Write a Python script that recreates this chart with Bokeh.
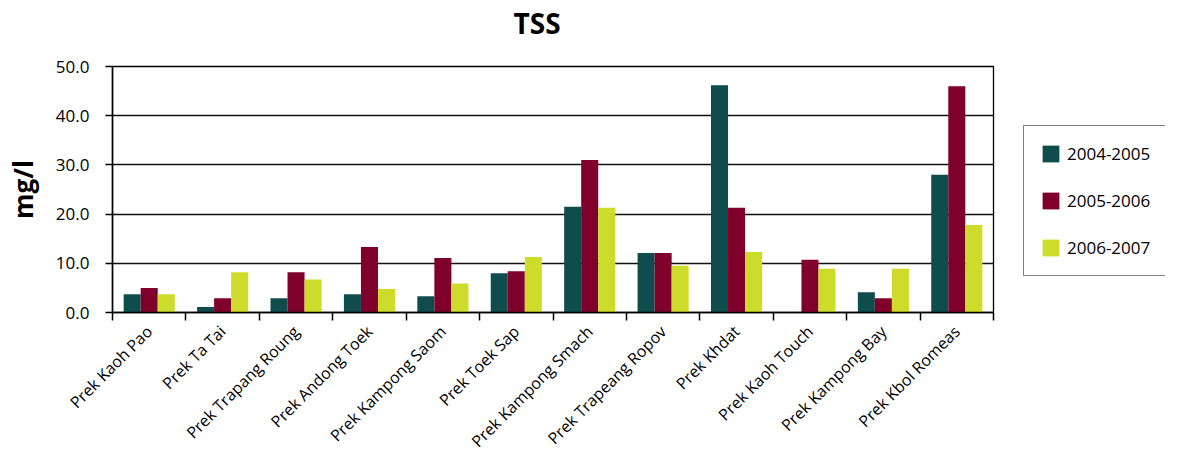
import numpy as np
from bokeh.plotting import figure
from bokeh.layouts import row, column
from bokeh.models import (ColumnDataSource, FixedTicker, CustomJSTickFormatter, Legend,
                          LegendItem, Range1d, NumeralTickFormatter)
from bokeh.transform import dodge
from bokeh.embed import file_html
from bokeh.resources import INLINE

sites = ["Prek Kaoh Pao", "Prek Ta Tai", "Prek Trapang Roung", "Prek Andong Toek",
         "Prek Kampong Saom", "Prek Toek Sap", "Prek Kampong Smach", "Prek Trapeang Ropov",
         "Prek Khdat", "Prek Kaoh Touch", "Prek Kampong Bay", "Prek Kbol Romeas"]
tss_2004_2005 = [3.7, 1.1, 2.9, 3.7, 3.3, 8.0, 21.5, 12.1, 46.2, 0.0, 4.1, 28.0]
tss_2005_2006 = [5.0, 2.9, 8.2, 13.3, 11.1, 8.4, 31.0, 12.1, 21.3, 10.7, 2.9, 46.0]
tss_2006_2007 = [3.7, 8.2, 6.7, 4.8, 5.9, 11.3, 21.3, 9.5, 12.3, 8.9, 8.9, 17.8]
series_labels = ["2004-2005", "2005-2006", "2006-2007"]
series_colors = ["#0F4C4C", "#7F002B", "#CDDC2A"]
y_ticks = [0, 10, 20, 30, 40, 50]

FONT = "Open Sans"
W = 1165
TH = 52          # title strip height
H = 462 - TH     # chart height
PW = 1008        # chart figure width (frame right at 993)

src = ColumnDataSource(dict(
    pos=[i + 0.5 for i in range(len(sites))],
    s0=tss_2004_2005, s1=tss_2005_2006, s2=tss_2006_2007,
))
series_cols = ["s0", "s1", "s2"]

# --- title strip ---
tf = figure(width=W, height=TH, output_backend="svg", toolbar_location=None,
            x_axis_type=None, y_axis_type=None, title="TSS",
            min_border_left=112, min_border_right=W - 993, min_border_top=0,
            min_border_bottom=0, x_range=Range1d(0, 1), y_range=Range1d(0, 1))
tf.outline_line_color = None
tf.xgrid.visible = False
tf.ygrid.visible = False
tf.title.text_font = FONT
tf.title.text_font_size = "28px"
tf.title.text_font_style = "bold"
tf.title.text_color = "black"
tf.title.align = "left"
tf.title.offset = 401
tf.title.standoff = 3

# --- main chart ---
p = figure(width=PW, height=H, output_backend="svg", toolbar_location=None,
           x_range=Range1d(0, len(sites)), y_range=Range1d(0, 50),
           min_border_left=112, min_border_right=PW - 993, min_border_top=66 - TH,
           min_border_bottom=H - (313 - TH))

bw = 0.232
offsets = [-bw, 0.0, bw]
for k, col in enumerate(series_cols):
    p.vbar(x=dodge("pos", offsets[k], range=p.x_range), top=col, width=bw,
           bottom=0, source=src, fill_color=series_colors[k], line_color=None)

xa = p.xaxis[0]
xa.ticker = FixedTicker(ticks=[i + 0.5 for i in range(len(sites))],
                        minor_ticks=list(range(len(sites) + 1)))
xa.formatter = CustomJSTickFormatter(args=dict(cats=sites),
                                     code="return cats[Math.floor(tick)];")
xa.major_tick_out = 0
xa.major_tick_in = 0
xa.minor_tick_out = 8
xa.minor_tick_in = 0
xa.minor_tick_line_color = "black"
xa.minor_tick_line_width = 1.5
xa.axis_line_color = "black"
xa.axis_line_width = 1.5
xa.major_label_orientation = np.pi / 4
xa.major_label_text_font = FONT
xa.major_label_text_font_size = "16px"
xa.major_label_text_color = "black"
xa.major_label_standoff = 8

ya = p.yaxis[0]
ya.ticker = FixedTicker(ticks=y_ticks, minor_ticks=[])
ya.formatter = NumeralTickFormatter(format="0.0")
ya.major_tick_out = 7
ya.major_tick_in = 0
ya.major_tick_line_color = "black"
ya.major_tick_line_width = 1.5
ya.axis_line_color = "black"
ya.axis_line_width = 1.5
ya.major_label_text_font = FONT
ya.major_label_text_font_size = "17px"
ya.major_label_text_color = "black"
ya.major_label_standoff = 16
ya.axis_label = "mg/l"
ya.axis_label_text_font = FONT
ya.axis_label_text_font_size = "26px"
ya.axis_label_text_font_style = "bold"
ya.axis_label_text_color = "black"
ya.axis_label_standoff = 12

p.xgrid.grid_line_color = None
p.ygrid.ticker = FixedTicker(ticks=y_ticks)
p.ygrid.grid_line_color = "#111111"
p.ygrid.grid_line_width = 1.3

p.outline_line_color = "black"
p.outline_line_width = 1.3
p.background_fill_color = "white"
p.border_fill_color = "white"

# --- legend panel (same data, drawn out of view; only the legend shows) ---
p2 = figure(width=W - PW, height=H, output_backend="svg", toolbar_location=None,
            x_range=Range1d(-3, -2), y_range=Range1d(0, 1), min_border=0,
            x_axis_type=None, y_axis_type=None)
p2.outline_line_color = None
p2.xgrid.visible = False
p2.ygrid.visible = False
leg_renderers = [p2.vbar(x="pos", top=series_cols[k], width=bw, source=src,
                         fill_color=series_colors[k], line_color=None)
                 for k in range(3)]
legend = Legend(items=[LegendItem(label=series_labels[k], renderers=[leg_renderers[k]])
                       for k in range(3)],
                location=(15, 36), orientation="vertical")
legend.label_text_font = FONT
legend.label_text_font_size = "17px"
legend.label_text_color = "black"
legend.glyph_width = 21
legend.glyph_height = 21
legend.label_height = 21
legend.label_standoff = 6
legend.spacing = 24
legend.padding = 16
legend.margin = 0
legend.border_line_color = "black"
legend.border_line_width = 1.5
legend.background_fill_alpha = 1.0
p2.add_layout(legend, "center")

layout = column(tf, row(p, p2))
open("out.html", "w").write(file_html(layout, INLINE))
